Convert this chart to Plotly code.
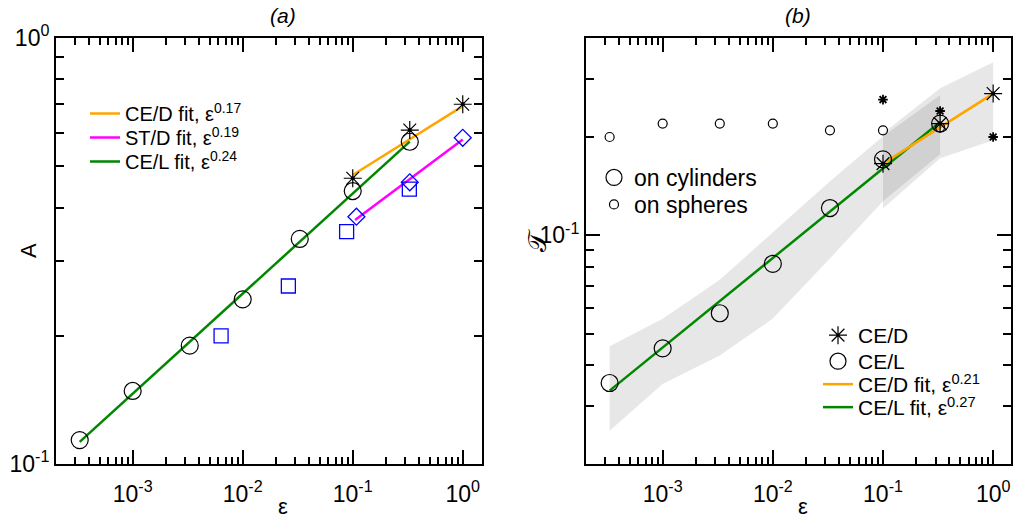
import numpy as np
import plotly.graph_objects as go
from plotly.subplots import make_subplots

# ---------------- data: panel (a) ----------------
eps_L = [0.00033, 0.001, 0.0033, 0.01, 0.033, 0.1, 0.33]
A_CEL = [0.1138, 0.1484, 0.1896, 0.2435, 0.3375, 0.4373, 0.5708]
eps_D = [0.1, 0.33, 1.0]
A_CED = [0.4686, 0.608, 0.699]
eps_STD_sq = [0.00636, 0.026, 0.088, 0.327]
A_STD_sq = [0.1998, 0.2617, 0.351, 0.442]
eps_STD_di = [0.108, 0.33, 1.0]
A_STD_di = [0.3806, 0.4585, 0.583]
fitA_D_x = [0.1, 1.0]
fitA_D_y = [0.477, 0.692]
fitA_S_x = [0.105, 1.0]
fitA_S_y = [0.374, 0.578]
fitA_L_x = [0.00033, 0.33]
fitA_L_y = [0.1127, 0.571]

# ---------------- data: panel (b) ----------------
T_CEL_cyl = [0.03535, 0.04512, 0.05773, 0.08175, 0.121, 0.1704, 0.2191]
T_CEL_sph = [0.1994, 0.2191, 0.2191, 0.2191, 0.209, 0.209, 0.2135]
T_CED_cyl = [0.1653, 0.2191, 0.2706]
T_CED_sph = [0.2594, 0.2394, 0.1994]
bandL_up = [0.0458, 0.0555, 0.0731, 0.1019, 0.146, 0.2003, 0.2674]
bandL_lo = [0.02528, 0.03513, 0.04286, 0.0556, 0.0849, 0.1268, 0.1765]
bandD_up = [0.2046, 0.2809, 0.3374]
bandD_lo = [0.1207, 0.1716, 0.1949]
fitT_L_x = [0.00033, 0.33]
fitT_L_y = [0.0335, 0.2216]
fitT_D_x = [0.1, 1.0]
fitT_D_y = [0.1653, 0.2706]

xtick_vals = [1e-3, 1e-2, 1e-1, 1.0]
xtick_text = ["10<sup>-3</sup>", "10<sup>-2</sup>", "10<sup>-1</sup>", "10<sup>0</sup>"]

FONT = "Liberation Sans, Arial, Helvetica, sans-serif"
ORANGE = "rgb(255,165,0)"
GREEN = "rgb(0,135,0)"
MAGENTA = "rgb(255,0,255)"
BLUE = "rgb(0,0,255)"
W, H = 1013, 522

fig = make_subplots(rows=1, cols=2)

# ---- panel (a) ----
fig.add_trace(go.Scatter(x=fitA_D_x, y=fitA_D_y, mode="lines", line=dict(color=ORANGE, width=2.5),
                         name="CE/D fit, ε<sup>0.17</sup>", legend="legend"), 1, 1)
fig.add_trace(go.Scatter(x=fitA_S_x, y=fitA_S_y, mode="lines", line=dict(color=MAGENTA, width=2.5),
                         name="ST/D fit, ε<sup>0.19</sup>", legend="legend2"), 1, 1)
fig.add_trace(go.Scatter(x=fitA_L_x, y=fitA_L_y, mode="lines", line=dict(color=GREEN, width=2.5),
                         name="CE/L fit, ε<sup>0.24</sup>", legend="legend3"), 1, 1)
fig.add_trace(go.Scatter(x=eps_L, y=A_CEL, mode="markers", showlegend=False,
                         marker=dict(symbol="circle-open", size=17, color="black", line=dict(width=1.2))), 1, 1)
fig.add_trace(go.Scatter(x=eps_STD_sq, y=A_STD_sq, mode="markers", showlegend=False,
                         marker=dict(symbol="square-open", size=14, color=BLUE, line=dict(width=1.3))), 1, 1)
fig.add_trace(go.Scatter(x=eps_STD_di, y=A_STD_di, mode="markers", showlegend=False,
                         marker=dict(symbol="diamond-open", size=13, color=BLUE, line=dict(width=1.3))), 1, 1)
fig.add_trace(go.Scatter(x=eps_D, y=A_CED, mode="markers", showlegend=False,
                         marker=dict(symbol="asterisk-open", size=15, color="black", line=dict(width=1.2, color="black"))), 1, 1)
fig.add_trace(go.Scatter(x=eps_D, y=A_CED, mode="markers", showlegend=False,
                         marker=dict(symbol="circle", size=4, color="black")), 1, 1)

# ---- panel (b) ----
band_fill = "rgba(0,0,0,0.095)"
fig.add_trace(go.Scatter(x=eps_L + eps_L[::-1], y=bandL_up + bandL_lo[::-1], mode="lines",
                         fill="toself", fillcolor=band_fill, line=dict(width=0), hoverinfo="skip",
                         showlegend=False), 1, 2)
fig.add_trace(go.Scatter(x=eps_D + eps_D[::-1], y=bandD_up + bandD_lo[::-1], mode="lines",
                         fill="toself", fillcolor=band_fill, line=dict(width=0), hoverinfo="skip",
                         showlegend=False), 1, 2)
fig.add_trace(go.Scatter(x=fitT_L_x, y=fitT_L_y, mode="lines", line=dict(color=GREEN, width=2.5),
                         name="CE/L fit, ε<sup>0.27</sup>", legend="legend9"), 1, 2)
fig.add_trace(go.Scatter(x=fitT_D_x, y=fitT_D_y, mode="lines", line=dict(color=ORANGE, width=2.5),
                         name="CE/D fit, ε<sup>0.21</sup>", legend="legend8"), 1, 2)
fig.add_trace(go.Scatter(x=eps_L, y=T_CEL_sph, mode="markers", showlegend=False,
                         marker=dict(symbol="circle-open", size=9, color="black", line=dict(width=1.2))), 1, 2)
fig.add_trace(go.Scatter(x=eps_D, y=T_CED_sph, mode="markers", showlegend=False,
                         marker=dict(symbol="asterisk-open", size=8, color="black", line=dict(width=1.8, color="black"))), 1, 2)
fig.add_trace(go.Scatter(x=eps_D, y=T_CED_sph, mode="markers", showlegend=False,
                         marker=dict(symbol="circle", size=4, color="black")), 1, 2)
fig.add_trace(go.Scatter(x=eps_L, y=T_CEL_cyl, mode="markers", name="CE/L", legend="legend7",
                         marker=dict(symbol="circle-open", size=17, color="black", line=dict(width=1.2))), 1, 2)
fig.add_trace(go.Scatter(x=eps_D, y=T_CED_cyl, mode="markers", name="CE/D", legend="legend6",
                         marker=dict(symbol="asterisk-open", size=15, color="black", line=dict(width=1.2, color="black"))), 1, 2)
fig.add_trace(go.Scatter(x=eps_D, y=T_CED_cyl, mode="markers", showlegend=False,
                         marker=dict(symbol="circle", size=4, color="black")), 1, 2)
# legend-only entries for marker-size meaning
fig.add_trace(go.Scatter(x=[None], y=[None], mode="markers", name="on cylinders", legend="legend4",
                         marker=dict(symbol="circle-open", size=16, color="black", line=dict(width=1.2))), 1, 2)
fig.add_trace(go.Scatter(x=[None], y=[None], mode="markers", name="on spheres", legend="legend5",
                         marker=dict(symbol="circle-open", size=9, color="black", line=dict(width=1.2))), 1, 2)

# ---- axes ----
def minor_vals(lo, hi):
    vals = []
    for k in range(lo, hi):
        for d in range(2, 10):
            vals.append(d * 10.0 ** k)
    return vals

axis_common = dict(type="log", showgrid=False, zeroline=False, showline=True, linecolor="black",
                   linewidth=2, mirror="allticks", ticks="inside", ticklen=14, tickwidth=1.5,
                   tickcolor="black", automargin=False,
                   tickfont=dict(family=FONT, size=23, color="black"))

L_dom = [56 / W, 482 / W]
R_dom = [586 / W, 1011 / W]
Y_dom = [1 - 464 / H, 1 - 38 / H]

minor_x = dict(tickmode="array", tickvals=minor_vals(-4, 0), ticks="inside", ticklen=7,
               tickwidth=1.5, tickcolor="black", showgrid=False)

fig.update_xaxes(axis_common, domain=L_dom, range=[-3.697, 0.175], tickmode="array",
                 tickvals=xtick_vals, ticktext=xtick_text, minor=minor_x, ticklabelstandoff=8, row=1, col=1)
fig.update_xaxes(axis_common, domain=R_dom, range=[-3.696, 0.162], tickmode="array",
                 tickvals=xtick_vals, ticktext=xtick_text, minor=minor_x, ticklabelstandoff=8, row=1, col=2)
fig.update_yaxes(axis_common, domain=Y_dom, range=[-1, 0], tickmode="array",
                 tickvals=[0.1, 1.0], ticktext=["10<sup>-1</sup>", "10<sup>0</sup>"],
                 minor=dict(tickmode="array", tickvals=minor_vals(-1, 0), ticks="inside", ticklen=8,
                            tickwidth=1.5, tickcolor="black", showgrid=False), row=1, col=1)
fig.update_yaxes(axis_common, domain=Y_dom, range=[np.log10(0.02), np.log10(0.4)], tickmode="array",
                 tickvals=[0.1], ticktext=["10<sup>-1</sup>"],
                 minor=dict(tickmode="array", tickvals=[0.02, 0.03, 0.04, 0.05, 0.06, 0.07, 0.08, 0.09, 0.2, 0.3, 0.4],
                            ticks="inside", ticklen=8, tickwidth=1.5, tickcolor="black", showgrid=False),
                 row=1, col=2)

# ---- text annotations (titles) ----
def label(text, x, y, size, angle=0, family=FONT):
    return dict(text=text, x=x / W, y=1 - y / H, xref="paper", yref="paper", showarrow=False,
                xanchor="center", yanchor="middle", textangle=angle,
                font=dict(family=family, size=size, color="black"))

ann = [
    label("<i>(a)</i>", 283, 15, 21),
    label("<i>(b)</i>", 798, 15, 21),
    label("ε", 283, 506, 22),
    label("ε", 803, 506, 22),
    label("A", 28, 251, 22, angle=-90),
    label("𝒯", 537, 241, 26, angle=-90, family="DejaVu Sans, Noto Sans, serif"),
]

# one legend per entry so rows sit exactly where the reference puts them
def leg(x_left, row_center, size, off):
    return dict(x=x_left / W, y=1 - (row_center - off) / H, xanchor="left", yanchor="top",
                bgcolor="rgba(0,0,0,0)", font=dict(family=FONT, size=size, color="black"),
                itemwidth=30)

fig.update_layout(
    width=W, height=H, margin=dict(l=0, r=0, t=0, b=0),
    paper_bgcolor="white", plot_bgcolor="white",
    font=dict(family=FONT, color="black"),
    annotations=ann,
    legend=leg(85, 110, 20, 16),
    legend2=leg(85, 134, 20, 16),
    legend3=leg(85, 158, 20, 16),
    legend4=leg(594, 178, 23, 22),
    legend5=leg(594, 205, 23, 22),
    legend6=leg(818, 333, 21, 18),
    legend7=leg(818, 359, 21, 18),
    legend8=leg(818, 384, 21, 20),
    legend9=leg(818, 407, 21, 20),
)

fig.write_html("out.html", config={"displayModeBar": False},
               post_script="document.body.style.margin='0px';")
